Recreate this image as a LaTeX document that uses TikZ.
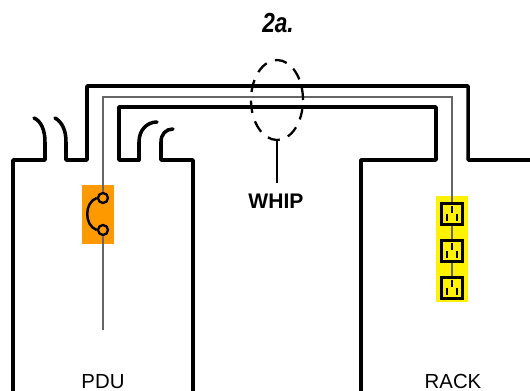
\documentclass[tikz,border=0pt]{standalone}
\usepackage{fontspec}
\setmainfont{Liberation Sans}
\usetikzlibrary{shapes.geometric}
\definecolor{fuseorange}{HTML}{FF9900}
\tikzset{
    outline/.style={line width=2pt, line join=round, line cap=round},
    wire/.style={line width=0.6pt, black!60},
    fusepin/.style={circle, draw, line width=1.3pt, inner sep=0pt, minimum size=0.2cm},
    outlet/.style={rectangle, draw, line width=1.4pt, inner sep=0pt, minimum size=0.42cm},
    prong/.style={line width=1.3pt},
    label/.style={inner sep=0pt, font=\fontsize{11.6pt}{14pt}\selectfont}
}
\begin{document}
\begin{tikzpicture}[x=0.02cm, y=-0.02cm]
    \useasboundingbox (0,0) rectangle (530,391);

    % 机柜外轮廓 (左 PDU, 右 RACK)
    \draw[outline] (13,391) -- (13,160) -- (45,160) -- (45,142)
        .. controls (45,130) and (41,121) .. (34,118);
    \draw[outline] (55,118) .. controls (62,122) and (66,130) .. (66,142)
        -- (66,160) -- (87,160) -- (87,86) -- (468,86) -- (468,160) -- (530,160);
    \draw[outline] (139,160) -- (119,160) -- (119,107) -- (436,107) -- (436,160)
        -- (361,160) -- (361,391);
    \draw[outline] (139,160) -- (139,142) .. controls (139,130) and (147,122) .. (157,122);
    \draw[outline] (173,129) .. controls (166,129) and (161,134) .. (161,142)
        -- (161,160) -- (193,160) -- (193,391);

    % 色块
    \fill[fuseorange] (82,185) rectangle (114,244);
    \fill[yellow] (436,196) rectangle (468,302);

    % 断路器
    \node[fusepin, fill=fuseorange] (fusetop) at (103,198) {};
    \node[fusepin, fill=fuseorange] (fusebot) at (103,230) {};
    \draw[line width=1.4pt] (fusetop.west) .. controls (84,202) and (84,226) .. (fusebot.west);

    % 插座
    \node[outlet] (outleta) at (452,214) {};
    \node[outlet] (outletb) at (452,251) {};
    \node[outlet] (outletc) at (452,288) {};
    \foreach \o in {outleta,outletb,outletc} {
        \draw[prong] ([shift={(0,-8)}]\o.center) -- ([shift={(0,-1)}]\o.center);
        \draw[prong] ([shift={(-5,0)}]\o.center) -- ([shift={(-5,7)}]\o.center);
        \draw[prong] ([shift={(5,0)}]\o.center) -- ([shift={(5,7)}]\o.center);
    }

    % 导线
    \coordinate (wirenw) at (103,97);
    \coordinate (wirene) at (452,97);
    \coordinate (wireend) at (103,330);
    \draw[wire] (fusetop.north) -- (wirenw) -- (wirene) -- (outleta.north);
    \draw[wire] (fusebot.south) -- (wireend);
    \draw[wire] (outleta.south) -- (outletb.north);
    \draw[wire] (outletb.south) -- (outletc.north);

    % 标注
    \node[ellipse, draw, line width=1.3pt, dash pattern=on 7pt off 5pt,
        inner sep=0pt, minimum width=1.04cm, minimum height=1.6cm] (whipring) at (277,100) {};
    \node[label, font=\fontsize{12pt}{14pt}\selectfont\bfseries] (whiplabel) at (276,201) {WHIP};
    \draw[line width=1pt] (whipring.south) -- ([yshift=0.2cm]whiplabel.north -| whipring.south);

    \node[label, font=\fontsize{15.7pt}{18pt}\selectfont\bfseries\itshape] (title) at (278,23) {\scalebox{0.82}[1]{2a.}};
    \node[label] (pdu) at (103,381.5) {PDU};
    \node[label] (rack) at (453,381.5) {RACK};
\end{tikzpicture}
\end{document}
